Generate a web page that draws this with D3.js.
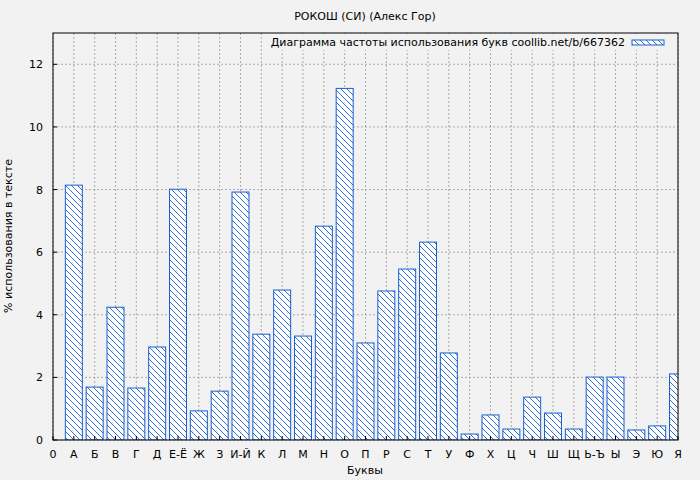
<!DOCTYPE html>
<html><head><meta charset="utf-8">
<script src="https://cdn.jsdelivr.net/npm/d3@7"></script>
<style>body{margin:0;background:#f2f2f2}svg{font-family:"DejaVu Sans",sans-serif}</style>
</head><body><svg id="c" width="700" height="480"></svg>
<script>
const tickLabels=["0","А","Б","В","Г","Д","Е-Ё","Ж","З","И-Й","К","Л","М","Н","О","П","Р","С","Т","У","Ф","Х","Ц","Ч","Ш","Щ","Ь-Ъ","Ы","Э","Ю","Я"];
const categories=tickLabels.slice(1);
const values=[8.14,1.69,4.24,1.66,2.97,8.01,0.93,1.56,7.92,3.38,4.79,3.32,6.83,11.23,3.10,4.76,5.46,6.32,2.78,0.19,0.80,0.35,1.37,0.86,0.35,2.01,2.01,0.32,0.45,2.11];
const yTicks=[0,2,4,6,8,10,12];
const L=53,R=678,T=33,B=440;
const svg=d3.select("#c");
const x=d3.scaleLinear().domain([0,30]).range([L,R]);
const y=d3.scaleLinear().domain([0,13]).range([B,T]);
const defs=svg.append("defs");
const p=defs.append("pattern").attr("id","h").attr("patternUnits","userSpaceOnUse").attr("width",6).attr("height",6);
p.append("rect").attr("width",6).attr("height",6).attr("fill","#fff");
p.append("path").attr("d","M-1,-1L7,7M-1,5L1,7M5,-1L7,1").attr("stroke","#1a5fd0").attr("stroke-width",0.9);
defs.append("clipPath").attr("id","cp").append("rect").attr("x",L).attr("y",T).attr("width",R-L).attr("height",B-T);
svg.append("rect").attr("x",L).attr("y",T).attr("width",R-L).attr("height",B-T).attr("fill","#f2f2f2");
const g=svg.append("g");
tickLabels.forEach((t,i)=>{g.append("line").attr("x1",x(i)).attr("x2",x(i)).attr("y1",T).attr("y2",B).attr("stroke","#999").attr("stroke-dasharray","2,2").attr("stroke-width",0.8);});
yTicks.forEach(v=>{g.append("line").attr("x1",L).attr("x2",R).attr("y1",y(v)).attr("y2",y(v)).attr("stroke","#999").attr("stroke-dasharray","2,2").attr("stroke-width",0.8);});
svg.append("g").attr("clip-path","url(#cp)").selectAll("rect").data(values).join("rect")
 .attr("x",(d,i)=>x(i+1)-8.5).attr("width",17).attr("y",d=>y(d)).attr("height",d=>B-y(d))
 .attr("fill","url(#h)").attr("stroke","#1a5fd0").attr("stroke-width",1);
svg.append("rect").attr("x",L).attr("y",T).attr("width",R-L).attr("height",B-T).attr("fill","none").attr("stroke","#000");
tickLabels.forEach((t,i)=>{
 svg.append("line").attr("x1",x(i)).attr("x2",x(i)).attr("y1",B).attr("y2",B-4).attr("stroke","#000");
 svg.append("text").attr("x",x(i)).attr("y",B+18).attr("text-anchor","middle").attr("font-size",11).text(t);});
yTicks.forEach(v=>{
 svg.append("line").attr("x1",L).attr("x2",L+4).attr("y1",y(v)).attr("y2",y(v)).attr("stroke","#000");
 svg.append("text").attr("x",L-10).attr("y",y(v)+4).attr("text-anchor","end").attr("font-size",11).text(v);});
svg.append("text").attr("x",365).attr("y",20).attr("text-anchor","middle").attr("font-size",11).text("РОКОШ (СИ) (Алекс  Гор)");
svg.append("text").attr("x",365).attr("y",474).attr("text-anchor","middle").attr("font-size",11).text("Буквы");
svg.append("text").attr("transform","translate(12,236) rotate(-90)").attr("text-anchor","middle").attr("font-size",11).text("% использования в тексте");
svg.append("rect").attr("x",268).attr("y",34).attr("width",408).attr("height",16).attr("fill","#f2f2f2");
svg.append("text").attr("x",625).attr("y",46).attr("text-anchor","end").attr("font-size",11).text("Диаграмма частоты использования букв coollib.net/b/667362");
svg.append("rect").attr("x",632).attr("y",40).attr("width",32).attr("height",5).attr("fill","url(#h)").attr("stroke","#1a5fd0");
</script></body></html>
